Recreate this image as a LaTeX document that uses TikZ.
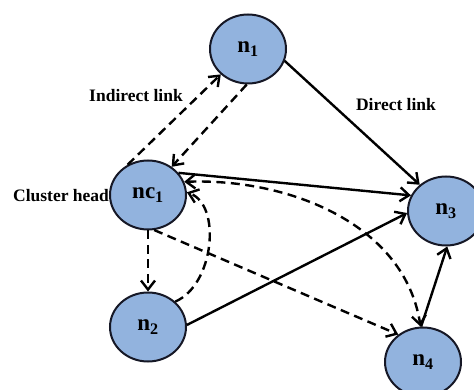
\documentclass[tikz,border=0pt]{standalone}
\usepackage{fontspec}
\setmainfont{Liberation Serif}
\usetikzlibrary{shapes.geometric,arrows.meta}

\definecolor{nodefill}{RGB}{146,179,222}
\definecolor{nodeline}{RGB}{22,24,38}

\tikzset{
  sensor/.style={ellipse, draw=nodeline, fill=nodefill, line width=2pt,
    minimum width=76pt, minimum height=69pt, inner sep=0pt,
    font=\fontsize{23}{25}\selectfont\bfseries},
  caption/.style={font=\fontsize{17.5}{19}\selectfont\bfseries, inner sep=0pt},
  barb/.tip={Straight Barb[length=9pt,width=14pt]},
  direct/.style={-barb, line width=2.4pt, draw=black},
  indirect/.style={-barb, line width=2.4pt, draw=black, dash pattern=on 9pt off 5.5pt},
}

\begin{document}
\begin{tikzpicture}[x=1pt,y=-1pt]
  \useasboundingbox[fill=white] (0,0) rectangle (474,390);

  % labels (the cluster head caption sits partly under its node)
  \node[caption, anchor=west] (chlabel) at (13,196) {Cluster head};
  \node[caption] (ilabel) at (136,96) {Indirect link};
  \node[caption] (dlabel) at (396,105) {Direct link};

  % sensor nodes
  \node[sensor] (n1)  at (248,49)  {n\textsubscript{1}};
  \node[sensor] (nc1) at (148,195) {nc\textsubscript{1}};
  \node[sensor] (n3)  at (446,211) {n\textsubscript{3}};
  \node[sensor] (n2)  at (148,327) {n\textsubscript{2}};
  \node[sensor] (n4)  at (423,362) {n\textsubscript{4}};

  % direct links
  \draw[direct] (n1.-18)  -- (n3.135);
  \draw[direct] (nc1.36)  -- (n3.156);
  \draw[direct] (n2.3)    -- (n3.-177);
  \draw[direct] (n4.93)   -- (n3.-88);

  % indirect links
  \draw[indirect] (nc1.124) -- (n1.-137);
  \draw[indirect] (n1.-92)  -- (nc1.50);
  \draw[indirect] (nc1.-90) -- (n2.90);
  \draw[indirect] (nc1.-80) -- (n4.132);
  \draw[indirect] (n2.43) .. controls (214,285) and (222,205) .. (nc1.4);
  \draw[indirect, barb-barb]
    (nc1.20) .. controls (290,178) and (405,225) .. (n4.94);
\end{tikzpicture}
\end{document}
